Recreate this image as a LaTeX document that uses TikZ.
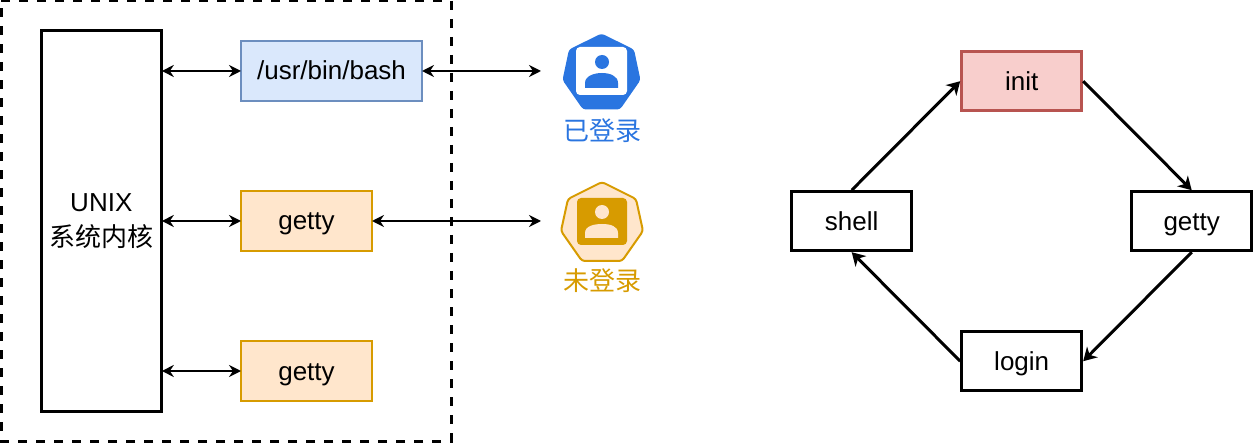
\documentclass[tikz,border=0pt]{standalone}
\usepackage{fontspec}
\setmainfont{Liberation Sans}
\newfontfamily\cjk{Noto Sans CJK SC}
\usetikzlibrary{arrows.meta,positioning,calc}
\definecolor{bluefill}{HTML}{DAE8FC}
\definecolor{blueline}{HTML}{6C8EBF}
\definecolor{orangefill}{HTML}{FFE6CC}
\definecolor{orangeline}{HTML}{D79B00}
\definecolor{redfill}{HTML}{F8CECC}
\definecolor{redline}{HTML}{B85450}
\definecolor{iconblue}{HTML}{2A75E0}
\tikzstyle{kernelbox}=[draw,line width=1.5pt,outer sep=.25pt,minimum height=190pt,minimum width=60pt,inner sep=0pt,font=\fontsize{13pt}{17.5pt}\selectfont,align=center]
\tikzstyle{plainbox}=[draw,line width=1.5pt,minimum height=29.5pt,minimum width=60pt,inner sep=0pt,text height=11pt,text depth=2pt,font=\fontsize{13pt}{15pt}\selectfont]
\tikzstyle{bashbox}=[plainbox,line width=1pt,outer sep=0pt,minimum height=30pt,minimum width=90.5pt,draw=blueline,fill=bluefill]
\tikzstyle{gettybox}=[plainbox,line width=1pt,outer sep=0pt,minimum height=30pt,minimum width=65.5pt,draw=orangeline,fill=orangefill]
\tikzstyle{initbox}=[plainbox,draw=redline,fill=redfill]
\tikzstyle{hostbox}=[line width=1.5pt,dash pattern=on 4.5pt off 4.5pt]
\tikzstyle{link}=[line width=1pt,{Stealth[length=6pt,width=6pt,inset=2pt]}-{Stealth[length=6pt,width=6pt,inset=2pt]}]
\tikzstyle{flow}=[line width=1.5pt,-{Stealth[length=6.5pt,width=7.5pt,inset=2pt]}]
\tikzstyle{iconlabel}=[inner sep=0pt,font=\fontsize{13pt}{15pt}\selectfont\cjk]
\tikzstyle{iconshape}=[rounded corners=1.5pt]

\begin{document}
\begin{tikzpicture}[x=.5pt,y=-.5pt]
    \useasboundingbox (0,0) rectangle (1253,443);
    \coordinate (hostnw) at (1,1);
    \coordinate (hostse) at (451,441);
    \draw [hostbox] (hostnw) -| (hostse) -| (hostnw);
    \node [kernelbox] (kernel) at (101.3,221) {UNIX\\{\cjk 系统内核}};
    \node [bashbox] (bash) at (331.5,71) {/usr/bin/bash};
    \node [gettybox] (gettya) at (306.5,221) {getty};
    \node [gettybox] (gettyb) at (306.5,371) {getty};
    \coordinate (loggedin) at (541,71);
    \coordinate (loggedout) at (541,221);
    % icon of the logged in user
    \begin{scope}[shift={(601.5,72)}]
      \fill [iconblue,iconshape] (0,-38.5) -- (32.5,-22.5) -- (39,8) -- (18.5,37.5) -- (-18.5,37.5) -- (-39,8) -- (-32.5,-22.5) -- cycle;
      \fill [white,rounded corners=2pt] (-25.5,-25) rectangle (25.5,23);
      \fill [iconblue] (0.5,-10) circle (7);
      \fill [iconblue] (-16.5,16) -- (-16.5,11) .. controls (-16.5,4) and (-7.5,1) .. (0.5,1) .. controls (8.5,1) and (16.5,4) .. (16.5,11) -- (16.5,16) -- cycle;
    \end{scope}
    \node [iconlabel,text=iconblue] (loggedintext) at (602,131) {已登录};
    % icon of the waiting terminal
    \begin{scope}[shift={(602,222)}]
      \draw [line width=1pt,draw=orangeline,fill=orangefill,iconshape] (0,-40) -- (34,-23) -- (41,9) -- (20,39) -- (-20,39) -- (-41,9) -- (-34,-23) -- cycle;
      \fill [orangeline,rounded corners=2pt] (-25,-24) rectangle (25,23);
      \fill [orangefill] (0,-10) circle (7);
      \fill [orangefill] (-17,16) -- (-17,11) .. controls (-17,4) and (-8,2) .. (0,2) .. controls (8,2) and (16,4) .. (16,11) -- (16,16) -- cycle;
    \end{scope}
    \node [iconlabel,text=orangeline] (loggedouttext) at (602,281) {未登录};
    \node [initbox] (init) at (1021.7,81.2) {init};
    \node [plainbox] (shell) at (851.7,221.2) {shell};
    \node [plainbox] (getty) at (1191.7,221.2) {getty};
    \node [plainbox] (login) at (1021.7,361.2) {login};
    \draw [link] (kernel.east |- bash) -- (bash);
    \draw [link] (kernel.east |- gettya) -- (gettya);
    \draw [link] (kernel.east |- gettyb) -- (gettyb);
    \draw [link] (bash) -- (loggedin);
    \draw [link] (gettya) -- (loggedout);
    \draw [flow] (init.east) -- (getty.north);
    \draw [flow] (getty.south) -- (login.east);
    \draw [flow] (login.west) -- (shell.south);
    \draw [flow] (shell.north) -- (init.west);
\end{tikzpicture}
\end{document}
